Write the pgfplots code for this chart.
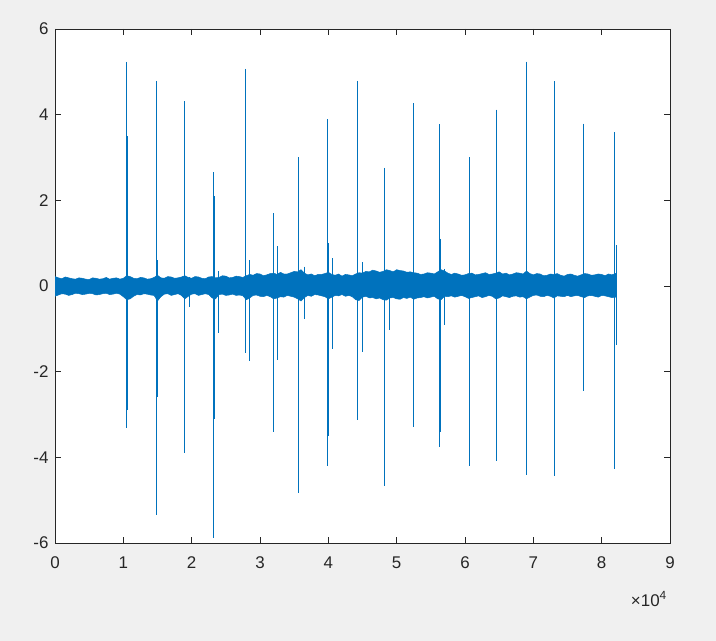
\documentclass[border=0pt]{standalone}
\usepackage{pgfplots}
\pgfplotsset{compat=1.18}
\usepackage{pgfplotstable}
\usepackage{fontspec}
\setmainfont{Liberation Sans}
\definecolor{mblue}{RGB}{0,114,189}
\definecolor{figbg}{RGB}{240,240,240}
\definecolor{axcol}{RGB}{38,38,38}

% spikes: vertical excursions (max then min), separated by nan
\pgfplotstableread{
x y
10480 5.23
10480 -3.31
nan nan
10560 3.50
10560 -2.90
nan nan
14870 4.79
14870 -5.35
nan nan
14960 0.60
14960 -2.60
nan nan
18900 4.31
18900 -3.91
nan nan
18980 1.75
18980 -3.60
nan nan
19630 0.20
19630 -0.50
nan nan
23200 2.65
23200 -5.88
nan nan
23280 2.10
23280 -3.10
nan nan
23980 0.35
23980 -1.10
nan nan
27880 5.07
27880 -1.57
nan nan
28400 0.60
28400 -1.75
nan nan
31920 1.70
31920 -3.40
nan nan
32560 0.93
32560 -1.73
nan nan
35630 3.00
35630 -4.83
nan nan
35700 1.00
35700 -3.20
nan nan
36550 0.45
36550 -0.77
nan nan
39910 3.89
39910 -4.20
nan nan
39990 1.00
39990 -3.50
nan nan
40640 0.65
40640 -1.46
nan nan
44230 4.79
44230 -3.12
nan nan
45000 0.55
45000 -1.53
nan nan
48200 2.76
48200 -4.66
nan nan
48980 0.30
48980 -1.03
nan nan
52530 4.27
52530 -3.30
nan nan
56330 3.78
56330 -3.75
nan nan
56400 1.10
56400 -3.40
nan nan
57000 0.40
57000 -0.90
nan nan
60630 3.00
60630 -4.20
nan nan
64620 4.12
64620 -4.08
nan nan
68960 5.24
68960 -4.41
nan nan
73100 4.78
73100 -4.43
nan nan
77290 3.79
77290 -2.45
nan nan
81830 3.59
81830 -4.28
nan nan
82160 0.95
82160 -1.38
}\spikes

\begin{document}
\begin{tikzpicture}
\fill[figbg] (-55bp,-98bp) rectangle (661bp,543bp);
\begin{axis}[
  name=ax,
  at={(0,0)}, anchor=south west,
  scale only axis,
  width=615bp, height=514bp,
  xmin=0, xmax=90000, ymin=-6, ymax=6,
  xtick={0,10000,20000,30000,40000,50000,60000,70000,80000,90000},
  xticklabels={0,1,2,3,4,5,6,7,8,9},
  ytick={-6,-4,-2,0,2,4,6},
  scaled x ticks=false,
  axis background/.style={fill=white},
  axis line style={axcol, line width=0.6pt},
  tick style={axcol, line width=0.6pt},
  major tick length=6bp,
  tick align=inside,
  tick label style={axcol, font=\fontsize{17}{19}\selectfont},
  xticklabel style={yshift=-10bp},
  yticklabel style={xshift=-3bp},
  /pgf/number format/assume math mode=true,
  unbounded coords=jump,
]
% noise band: upper envelope left to right, lower envelope right to left
\addplot[draw=mblue, fill=mblue, line width=0.5pt] coordinates {
(0,0.22) (500,0.19) (1000,0.17) (1500,0.21) (2000,0.19) (2500,0.17) (3000,0.16) (3500,0.19) (4000,0.18) (4500,0.16) (5000,0.15)
(5500,0.19) (6000,0.18) (6500,0.16) (7000,0.17) (7500,0.20) (8000,0.16) (8500,0.18) (9000,0.19) (9500,0.16) (10000,0.18) (10500,0.24) (11000,0.22)
(11500,0.18) (12000,0.17) (12500,0.20) (13000,0.19) (13500,0.16) (14000,0.17) (14500,0.20) (15000,0.25) (15500,0.19) (16000,0.18) (16500,0.22) (17000,0.21)
(17500,0.18) (18000,0.19) (18500,0.21) (19000,0.24) (19500,0.20) (20000,0.18) (20500,0.22) (21000,0.21) (21500,0.18) (22000,0.17) (22500,0.21) (23000,0.22)
(23500,0.19) (24000,0.20) (24500,0.24) (25000,0.23) (25500,0.19) (26000,0.20) (26500,0.23) (27000,0.22) (27500,0.20) (28000,0.24) (28500,0.27) (29000,0.25)
(29500,0.29) (30000,0.28) (30500,0.24) (31000,0.26) (31500,0.29) (32000,0.30) (32500,0.27) (33000,0.32) (33500,0.28) (34000,0.28) (34500,0.31) (35000,0.34)
(35500,0.33) (36000,0.38) (36500,0.30) (37000,0.26) (37500,0.28) (38000,0.24) (38500,0.27) (39000,0.27) (39500,0.29) (40000,0.32) (40500,0.27) (41000,0.25)
(41500,0.28) (42000,0.23) (42500,0.27) (43000,0.26) (43500,0.24) (44000,0.28) (44500,0.31) (45000,0.30) (45500,0.34) (46000,0.33) (46500,0.37) (47000,0.35)
(47500,0.32) (48000,0.34) (48500,0.38) (49000,0.36) (49500,0.33) (50000,0.38) (50500,0.36) (51000,0.35) (51500,0.32) (52000,0.33) (52500,0.31) (53000,0.30)
(53500,0.27) (54000,0.28) (54500,0.31) (55000,0.30) (55500,0.28) (56000,0.33) (56500,0.38) (57000,0.35) (57500,0.30) (58000,0.27) (58500,0.30) (59000,0.28)
(59500,0.25) (60000,0.26) (60500,0.29) (61000,0.30) (61500,0.26) (62000,0.27) (62500,0.29) (63000,0.31) (63500,0.27) (64000,0.28) (64500,0.30) (65000,0.33)
(65500,0.28) (66000,0.30) (66500,0.26) (67000,0.28) (67500,0.31) (68000,0.30) (68500,0.28) (69000,0.35) (69500,0.29) (70000,0.26) (70500,0.29) (71000,0.28)
(71500,0.24) (72000,0.25) (72500,0.28) (73000,0.27) (73500,0.29) (74000,0.25) (74500,0.23) (75000,0.27) (75500,0.28) (76000,0.25) (76500,0.23) (77000,0.26)
(77500,0.29) (78000,0.28) (78500,0.25) (79000,0.26) (79500,0.28) (80000,0.27) (80500,0.24) (81000,0.28) (81500,0.26) (82160,0.30)
(82160,-0.26) (81500,-0.27) (81000,-0.25) (80500,-0.23) (80000,-0.22) (79500,-0.26) (79000,-0.24) (78500,-0.22) (78000,-0.23) (77500,-0.27) (77000,-0.25)
(76500,-0.22) (76000,-0.23) (75500,-0.25) (75000,-0.22) (74500,-0.25) (74000,-0.24) (73500,-0.23) (73000,-0.28) (72500,-0.24) (72000,-0.22) (71500,-0.25) (71000,-0.24)
(70500,-0.21) (70000,-0.22) (69500,-0.26) (69000,-0.30) (68500,-0.25) (68000,-0.26) (67500,-0.23) (67000,-0.24) (66500,-0.27) (66000,-0.25) (65500,-0.23) (65000,-0.28)
(64500,-0.30) (64000,-0.24) (63500,-0.22) (63000,-0.25) (62500,-0.27) (62000,-0.23) (61500,-0.25) (61000,-0.27) (60500,-0.29) (60000,-0.25) (59500,-0.22) (59000,-0.24)
(58500,-0.26) (58000,-0.23) (57500,-0.25) (57000,-0.24) (56500,-0.32) (56000,-0.30) (55500,-0.24) (55000,-0.26) (54500,-0.28) (54000,-0.25) (53500,-0.27) (53000,-0.28)
(52500,-0.31) (52000,-0.26) (51500,-0.29) (51000,-0.27) (50500,-0.31) (50000,-0.30) (49500,-0.27) (49000,-0.28) (48500,-0.33) (48000,-0.32) (47500,-0.28) (47000,-0.30)
(46500,-0.27) (46000,-0.28) (45500,-0.24) (45000,-0.26) (44500,-0.34) (44000,-0.32) (43500,-0.25) (43000,-0.22) (42500,-0.24) (42000,-0.20) (41500,-0.23) (41000,-0.22)
(40500,-0.26) (40000,-0.30) (39500,-0.25) (39000,-0.23) (38500,-0.21) (38000,-0.20) (37500,-0.24) (37000,-0.22) (36500,-0.27) (36000,-0.35) (35500,-0.30) (35000,-0.26)
(34500,-0.24) (34000,-0.22) (33500,-0.26) (33000,-0.25) (32500,-0.28) (32000,-0.30) (31500,-0.25) (31000,-0.22) (30500,-0.25) (30000,-0.24) (29500,-0.21) (29000,-0.22)
(28500,-0.28) (28000,-0.32) (27500,-0.23) (27000,-0.21) (26500,-0.22) (26000,-0.19) (25500,-0.21) (25000,-0.22) (24500,-0.19) (24000,-0.20) (23500,-0.30) (23000,-0.28)
(22500,-0.20) (22000,-0.18) (21500,-0.20) (21000,-0.22) (20500,-0.18) (20000,-0.19) (19500,-0.24) (19000,-0.30) (18500,-0.22) (18000,-0.18) (17500,-0.20) (17000,-0.22)
(16500,-0.18) (16000,-0.19) (15500,-0.25) (15000,-0.35) (14500,-0.22) (14000,-0.21) (13500,-0.19) (13000,-0.18) (12500,-0.21) (12000,-0.20) (11500,-0.24) (11000,-0.30)
(10500,-0.32) (10000,-0.25) (9500,-0.19) (9000,-0.17) (8500,-0.19) (8000,-0.20) (7500,-0.17) (7000,-0.18) (6500,-0.20) (6000,-0.21) (5500,-0.18) (5000,-0.17)
(4500,-0.19) (4000,-0.20) (3500,-0.18) (3000,-0.17) (2500,-0.20) (2000,-0.22) (1500,-0.19) (1000,-0.18) (500,-0.21) (0,-0.24)
} -- cycle;
\addplot[draw=mblue, line width=1.0pt] table[x=x, y=y] {\spikes};
\end{axis}
\node[anchor=base east, axcol, font=\fontsize{17}{19}\selectfont, inner sep=0pt] at ([xshift=-3bp, yshift=-63bp]ax.south east) {×10\textsuperscript{4}};
\end{tikzpicture}
\end{document}
